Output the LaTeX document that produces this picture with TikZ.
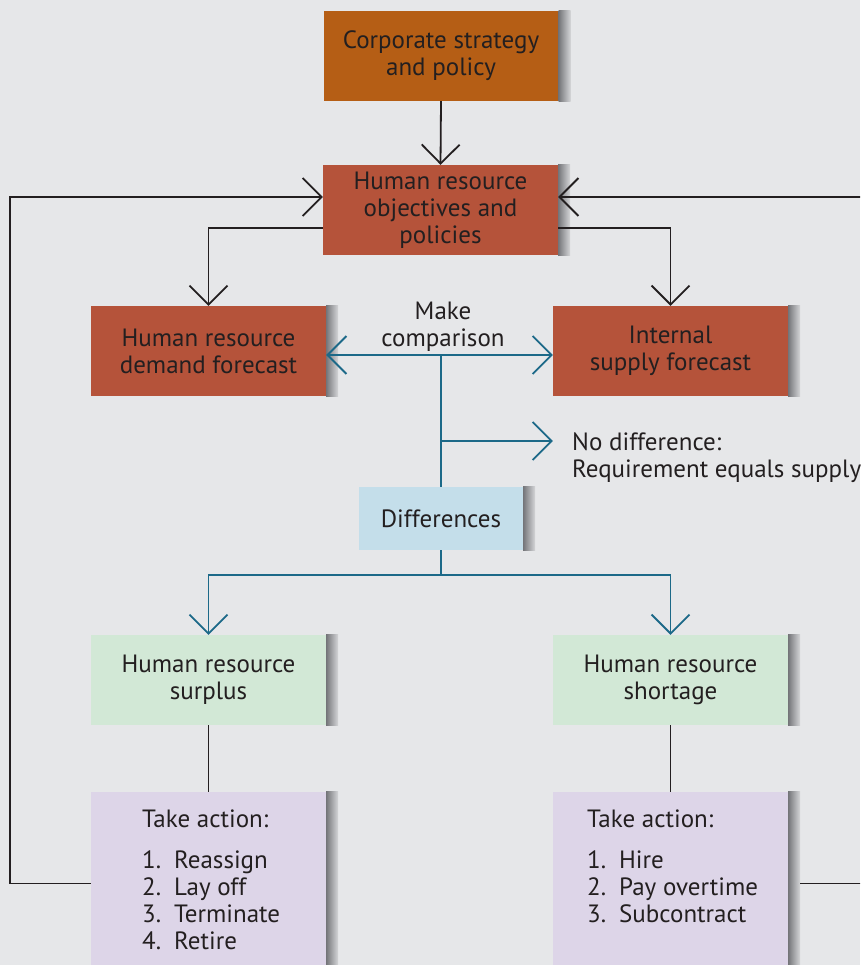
\documentclass[tikz,border=0pt]{standalone}
\usepackage{fontspec}
\setmainfont{PT Sans}
\usetikzlibrary{arrows.meta}

\definecolor{bg}{HTML}{E6E7E9}
\definecolor{txt}{HTML}{231F20}
\definecolor{corpcol}{HTML}{B55E15}
\definecolor{hrcol}{HTML}{B5533A}
\definecolor{diffcol}{HTML}{C4DEEA}
\definecolor{gapcol}{HTML}{D2E8D6}
\definecolor{actcol}{HTML}{DDD5E8}
\definecolor{tealline}{HTML}{1C6988}
\definecolor{shadowdark}{HTML}{75767A}
\definecolor{shadowlight}{HTML}{D6D7D9}

\tikzset{
  box/.style={rectangle, inner sep=0pt, text=txt, align=center,
    minimum width=235pt, minimum height=90pt,
    font=\fontsize{25}{27}\selectfont},
  corpbox/.style={box, fill=corpcol},
  hrbox/.style={box, fill=hrcol},
  diffbox/.style={box, fill=diffcol, minimum width=164pt, minimum height=63pt},
  gapbox/.style={box, fill=gapcol},
  actbox/.style={box, fill=actcol, minimum height=183pt},
  label/.style={inner sep=0pt, text=txt, font=\fontsize{25}{27}\selectfont},
  blackline/.style={draw=txt, line width=1.8pt},
  tealconn/.style={draw=tealline, line width=1.8pt},
  barb/.tip={Straight Barb[length=19pt,width=38pt]},
}

% grey strip along the right edge of a box
\newcommand{\boxshadow}[1]{%
  \shade[left color=shadowdark, right color=shadowlight]
    (#1.north east) rectangle ([xshift=12pt]#1.south east);}

\begin{document}
\begin{tikzpicture}[x=1pt, y=-1pt]
  \useasboundingbox (0,0) rectangle (860,965);
  \clip (0,0) rectangle (860,965);
  \fill[bg] (0,0) rectangle (860,965);

  % boxes
  \node[corpbox] (corp)   at (441,56)    {Corporate strategy\\and policy};
  \node[hrbox]   (hrobj)  at (440.5,210) {Human resource\\objectives and\\policies};
  \node[hrbox]   (demand) at (208.5,351) {Human resource\\demand forecast};
  \node[hrbox]   (supply) at (670.5,351) {Internal\\supply forecast};
  \node[diffbox] (diff)   at (441,518.5) {Differences};
  \node[gapbox]  (surplus)  at (208.5,680) {Human resource\\surplus};
  \node[gapbox]  (shortage) at (670.5,680) {Human resource\\shortage};
  \node[actbox]  (actL)   at (208.5,883.5) {};
  \node[actbox]  (actR)   at (670.5,883.5) {};

  \foreach \n in {corp,hrobj,demand,supply,diff,surplus,shortage,actL,actR}
    {\boxshadow{\n}}

  % action lists
  \node[label, anchor=north west, align=left] (listL) at (142,810)
    {Take action:\\[20pt]
     \begin{tabular}{@{}l@{\hspace{13pt}}l@{}}
       1. & Reassign\\ 2. & Lay off\\ 3. & Terminate\\ 4. & Retire
     \end{tabular}};
  \node[label, anchor=north west, align=left] (listR) at (587,810)
    {Take action:\\[20pt]
     \begin{tabular}{@{}l@{\hspace{13pt}}l@{}}
       1. & Hire\\ 2. & Pay overtime\\ 3. & Subcontract
     \end{tabular}};

  % free labels
  \node[label, align=center] (cmplabel) at (443,327) {Make\\comparison};
  \node[label, align=left, anchor=west] (nodiff) at (572,458)
    {No difference:\\Requirement equals supply};

  % black flow
  \draw[blackline, -{barb}] (corp.south) -- (hrobj.north);
  \draw[blackline, -{barb}] ([yshift=-18pt]hrobj.west) -| (demand.north);
  \draw[blackline, -{barb}] ([yshift=-18pt]hrobj.east) -| (supply.north);
  \draw[blackline] (surplus.south) -- (actL.north);
  \draw[blackline] (shortage.south) -- (actR.north);

  % feedback loops
  \coordinate (loopL) at (10,197);
  \coordinate (loopR) at (870,197);
  \draw[blackline, -{barb}] (actL.west) -| (loopL) -- (loopL -| hrobj.west);
  \draw[blackline, -{barb}] ([xshift=12pt]actR.east) -| (loopR) -- (loopR -| hrobj.east);

  % comparison
  \coordinate (cmp) at (441,355);
  \coordinate (nd)  at (441,441);
  \coordinate (split) at (441,575);
  \draw[tealconn, {barb}-{barb}] ([yshift=-4pt]demand.east) -- ([yshift=-4pt]supply.west);
  \draw[tealconn] (cmp) -- (diff.north);
  \draw[tealconn, -{barb}] (nd) -- (nd -| supply.west);
  \draw[tealconn] (diff.south) -- (split);
  \draw[tealconn, -{barb}] (split) -| (surplus.north);
  \draw[tealconn, -{barb}] (split) -| (shortage.north);
\end{tikzpicture}
\end{document}
